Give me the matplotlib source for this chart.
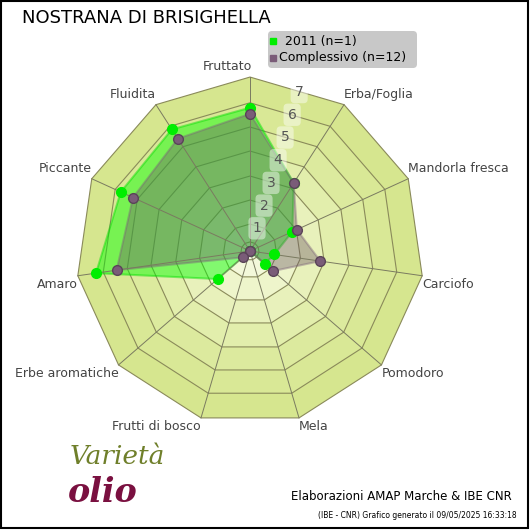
import numpy as np
import matplotlib
matplotlib.use("Agg")
import matplotlib.pyplot as plt
from matplotlib.patches import Polygon, FancyBboxPatch, Rectangle

# --------------------
# Data
# --------------------
categories = ["Fruttato", "Erba/Foglia", "Mandorla fresca", "Carciofo", "Pomodoro",
              "Mela", "Frutti di bosco", "Erbe aromatiche", "Amaro", "Piccante", "Fluidita"]
values_2011 = [5.85, 3.3, 1.9, 1.0, 0.8, 0.0, 0.0, 1.75, 6.35, 5.8, 5.9]
values_all = [5.6, 3.3, 2.1, 2.9, 1.25, 0.0, 0.0, 0.4, 5.5, 5.25, 5.45]
ring_values = [0.37, 1.1, 2.08, 3.06, 4.08, 5.06, 6.05, 7.1]
scale_labels = ["1", "2", "3", "4", "5", "6", "7"]
label_2011 = "2011 (n=1)"
label_all = "Complessivo (n=12)"

# --------------------
# Layout (pixels)
# --------------------
CX, CY = 250, 251
PX = 24.5
n = len(categories)
ang = np.arange(n) * 2 * np.pi / n


def xy(vals):
    v = np.asarray(vals, dtype=float)
    return CX + v * PX * np.sin(ang), CY - v * PX * np.cos(ang)


fig = plt.figure(figsize=(5.3, 5.3), dpi=100)
ax = fig.add_axes([0, 0, 1, 1])
ax.set_xlim(0, 530)
ax.set_ylim(530, 0)
ax.axis("off")
ax.add_patch(Rectangle((1, 1), 527, 527, fill=False, ec="black", lw=1.5))

# rings, outer first, light centre
band_cols = ["#d6e68f", "#d9e896", "#dcea9e", "#e2eeac", "#e8f1bb", "#eef5cb", "#f3f8da", "#f7fae6"]
for rv, c in zip(ring_values[::-1], band_cols):
    x, y = xy([rv] * n)
    ax.add_patch(Polygon(np.c_[x, y], closed=True, fc=c, ec="#8a8a5a", lw=0.8))
xo, yo = xy([ring_values[-1]] * n)
for i in range(n):
    ax.plot([CX, xo[i]], [CY, yo[i]], color="#7a7a60", lw=0.7)

# series
x1, y1 = xy(values_2011)
x2, y2 = xy(values_all)
ax.add_patch(Polygon(np.c_[x1, y1], closed=True, fc="#00ff00", alpha=0.45, ec="#00dd00", lw=1.5))
ax.add_patch(Polygon(np.c_[x2, y2], closed=True, fc="#6e5a68", alpha=0.4, ec="#7a6078", lw=1.5))
ax.plot(x1, y1, "o", color="#00ee00", ms=7, zorder=5)
ax.plot(x2, y2, "o", color="#7a5c78", mec="#5a4458", ms=7, zorder=6)

# scale labels
for i, s in enumerate(scale_labels):
    r = (i + 1) * PX * 0.97
    ax.text(CX + r * np.sin(0.3), CY - r * np.cos(0.3), s, fontsize=10, color="#555555",
            ha="center", va="center", zorder=7,
            bbox=dict(boxstyle="round,pad=0.3", fc="white", ec="none", alpha=0.45))

# category labels
for i, cat in enumerate(categories):
    s, c = np.sin(ang[i]), np.cos(ang[i])
    x, y = xo[i], yo[i]
    ha = "left" if s > 0.1 else "right"
    if c > 0.1:
        va = "bottom"; y -= 4
    elif c < -0.1:
        va = "top"; y += 2
    else:
        va = "center"
    if i == 0:
        ha = "right"; x += 2
    ax.text(x, y, cat, fontsize=9, color="#444444", ha=ha, va=va)

ax.text(22, 18, "NOSTRANA DI BRISIGHELLA", fontsize=13, ha="left", va="center")

# legend
ax.add_patch(FancyBboxPatch((268, 31), 149, 37, boxstyle="round,pad=0,rounding_size=4",
                            fc="#c8c8c8", ec="none", zorder=8))
ax.plot(273, 41, "s", color="#00ee00", ms=4, zorder=9)
ax.plot(273, 58, "s", color="#7a5c78", ms=4, zorder=9)
ax.text(285, 41, label_2011, fontsize=9, va="center", zorder=9)
ax.text(279, 58, label_all, fontsize=9, va="center", zorder=9)

# logo-ish text and credits
ax.text(70, 456, "Varietà", fontsize=19, style="italic", color="#6f7f2a", family="DejaVu Serif",
        va="center")
ax.text(68, 492, "olio", fontsize=24, style="italic", color="#7a1040", family="DejaVu Serif",
        fontweight="bold", va="center")
ax.text(512, 497, "Elaborazioni AMAP Marche & IBE CNR", fontsize=8.5, ha="right", va="center")
ax.text(517, 515, "(IBE - CNR) Grafico generato il 09/05/2025 16:33:18", fontsize=5.5,
        ha="right", va="center")

fig.savefig("out.png", dpi=100)
